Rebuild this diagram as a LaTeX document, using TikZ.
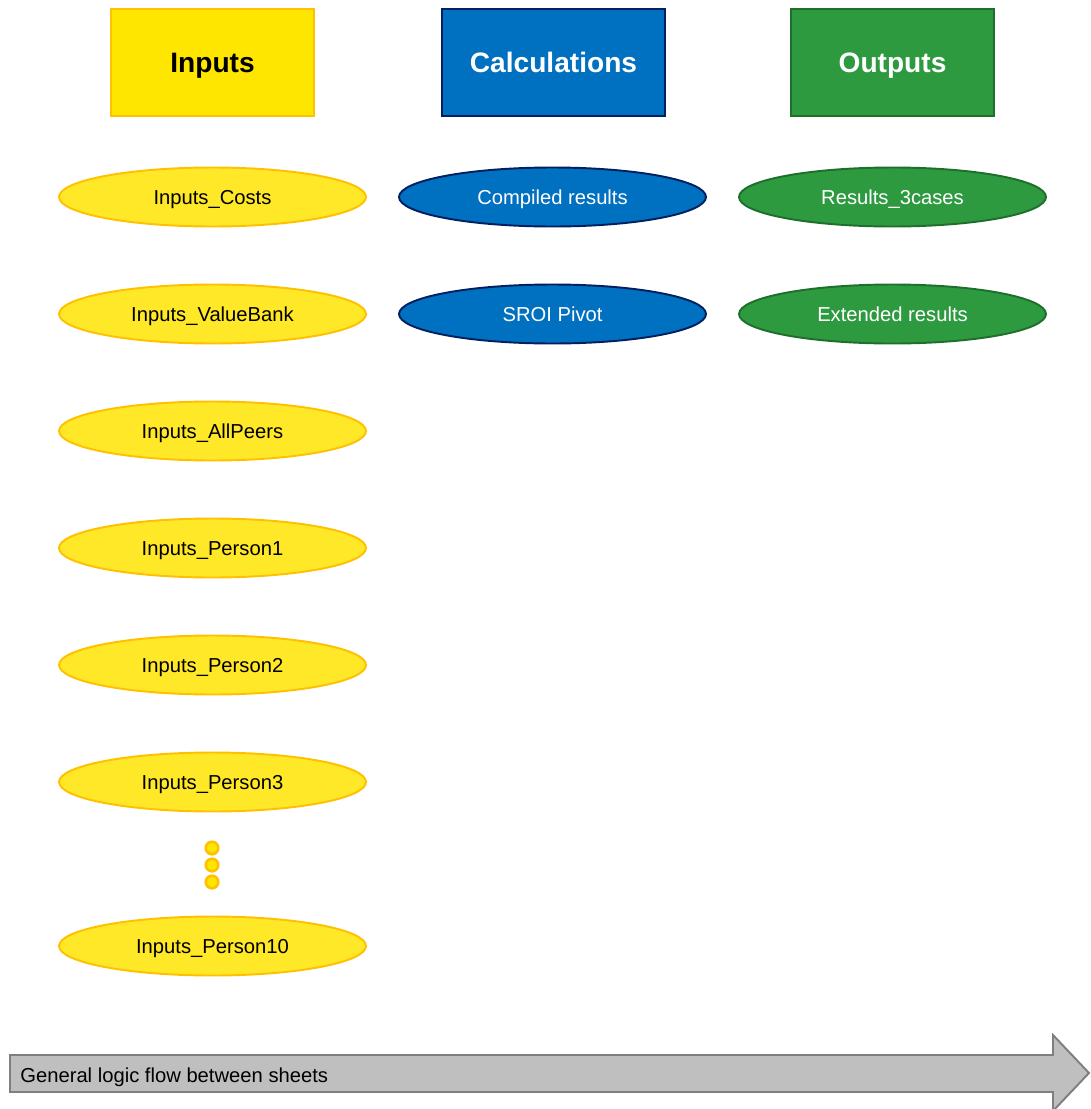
\documentclass[tikz,border=0pt]{standalone}
\usepackage{fontspec}
\setmainfont{Liberation Sans}
\usetikzlibrary{shapes.geometric}

\definecolor{inyellow}{HTML}{FFE600}
\definecolor{inyellowlight}{HTML}{FFE827}
\definecolor{inorange}{HTML}{FFC000}
\definecolor{calcblue}{HTML}{0070C0}
\definecolor{calcnavy}{HTML}{002060}
\definecolor{outgreen}{HTML}{2E9A40}
\definecolor{outdark}{HTML}{1E6E2C}
\definecolor{flowgrey}{HTML}{BFBFBF}
\definecolor{flowedge}{HTML}{7F7F7F}

\tikzset{
	header/.style={draw, line width=1.1pt, minimum width=4.06cm, minimum height=2.14cm,
		inner sep=0pt, text height=11.5pt, text depth=0pt, font=\fontsize{16}{19}\selectfont\bfseries},
	sheet/.style={ellipse, draw, line width=1.1pt, minimum width=6.14cm, minimum height=1.18cm,
		inner sep=0pt, text height=8.2pt, text depth=0pt, font=\fontsize{11.5}{14}\selectfont},
	insheet/.style={sheet, fill=inyellowlight, draw=inorange, text=black},
	calcsheet/.style={sheet, fill=calcblue, draw=calcnavy, text=white},
	outsheet/.style={sheet, fill=outgreen, draw=outdark, text=white},
	moredot/.style={circle, draw=inorange, fill=inyellow, line width=1.5pt, minimum size=0.25cm, inner sep=0pt}
}

\begin{document}
\begin{tikzpicture}[x=0.02cm, y=-0.02cm]
		%%%%% START %%%%%
		\useasboundingbox (0, 0) rectangle (1090, 1109);
		
		% column headers
		\node[header, fill=inyellow, draw=inorange, text=black] (inputs) at (212.5, 62.5) {Inputs};
		\node[header, fill=calcblue, draw=calcnavy, text=white, minimum width=4.46cm] (calculations) at (553.5, 62.5) {Calculations};
		\node[header, fill=outgreen, draw=outdark, text=white] (outputs) at (892.5, 62.5) {Outputs};
		
		% input sheets
		\node[insheet] (incosts) at (212.5, 197) {Inputs\_Costs};
		\node[insheet] (invaluebank) at (212.5, 314) {Inputs\_ValueBank};
		\node[insheet] (inallpeers) at (212.5, 431) {Inputs\_AllPeers};
		\node[insheet] (inpersonA) at (212.5, 548) {Inputs\_Person1};
		\node[insheet] (inpersonB) at (212.5, 665) {Inputs\_Person2};
		\node[insheet] (inpersonC) at (212.5, 782) {Inputs\_Person3};
		
		\node[moredot] (dotA) at (212, 848) {};
		\node[moredot] (dotB) at (212, 865) {};
		\node[moredot] (dotC) at (212, 882) {};
		
		\node[insheet] (inpersonJ) at (212.5, 946) {Inputs\_Person10};
		
		% calculation sheets
		\node[calcsheet] (compiled) at (552.5, 197) {Compiled results};
		\node[calcsheet] (pivot) at (552.5, 314) {SROI Pivot};
		
		% output sheets
		\node[outsheet] (threecases) at (892.5, 197) {Results\_3cases};
		\node[outsheet] (extended) at (892.5, 314) {Extended results};
		
		% logic flow arrow
		\draw[line width=1.1pt, draw=flowedge, fill=flowgrey] (10, 1055) -- (1053, 1055) -- (1053, 1035)
			-- (1089, 1073) -- (1053, 1111) -- (1053, 1092) -- (10, 1092) -- cycle;
		\node[anchor=west, inner sep=0pt, text height=8.2pt, text depth=0pt, font=\fontsize{11.5}{14}\selectfont] (flowlabel) at (20, 1075) {General logic flow between sheets};
		
		%%%%% END %%%%%
	\end{tikzpicture}
\end{document}
